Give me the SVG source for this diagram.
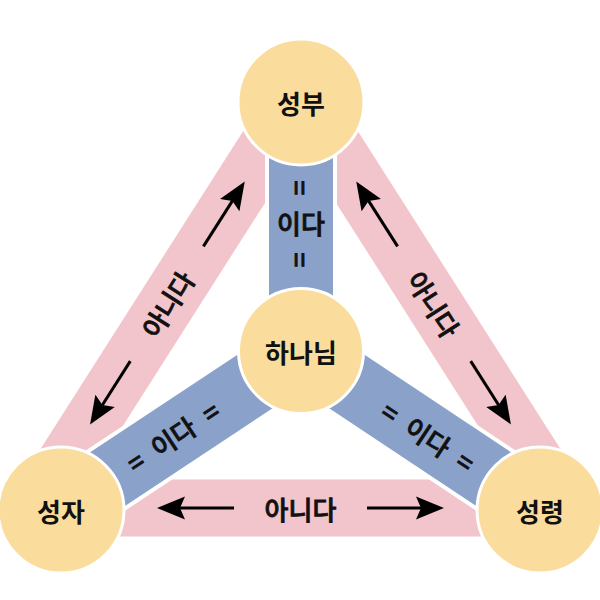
<svg xmlns="http://www.w3.org/2000/svg" width="600" height="600" viewBox="0 0 600 600">
  <style>
    .pink { fill: #F2C4CB; }
    .gap { stroke: #FFFFFF; stroke-width: 72; stroke-linecap: butt; }
    .blue { stroke: #8AA2CA; stroke-width: 64; stroke-linecap: butt; }
    .arrow { stroke: #000000; stroke-width: 3; fill: none; marker-end: url(#ah); }
    .node { fill: #FADD9D; stroke: #FFFFFF; stroke-width: 3; }
    .name { font-family: "Noto Sans CJK KR", "Noto Sans", sans-serif; font-size: 26px; font-weight: bold; fill: #111111; text-anchor: middle; dominant-baseline: central; }
    .lbl { font-family: "Noto Sans CJK KR", "Noto Sans", sans-serif; font-size: 26px; font-weight: 500; fill: #111111; stroke: #111111; stroke-width: 0.8; text-anchor: middle; dominant-baseline: central; }
  </style>
  <defs>
    <marker id="ah" markerUnits="userSpaceOnUse" markerWidth="30" markerHeight="24" viewBox="0 0 30 24" refX="5" refY="12" orient="auto">
      <path d="M0,0.5 L28,12 L0,23.5 L5,12 Z" fill="#000000"/>
    </marker>
  </defs>
  <rect width="600" height="600" fill="#FFFFFF"/>

  <g id="connectors">
    <!-- pink "아니다" bands -->
    <polygon class="pink" points="272.9,84.4 321,115 66.9,513.7 18.8,483.1"/>
    <polygon class="pink" points="328.1,84.4 280,115 534.1,513.7 582.2,483.1"/>
    <rect class="pink" x="61" y="479.5" width="479" height="57"/>

    <!-- blue "이다" bands with white gap -->
    <line class="gap" x1="301" y1="102" x2="301" y2="351"/>
    <line class="gap" x1="61" y1="510" x2="301" y2="351"/>
    <line class="gap" x1="540" y1="510" x2="301" y2="351"/>
    <line class="blue" x1="301" y1="102" x2="301" y2="351"/>
    <line class="blue" x1="61" y1="510" x2="301" y2="351"/>
    <line class="blue" x1="540" y1="510" x2="301" y2="351"/>

    <!-- arrows -->
    <line class="arrow" x1="203.4" y1="246.4" x2="232.4" y2="200.9"/>
    <line class="arrow" x1="130.3" y1="361.1" x2="102.4" y2="405.0"/>
    <line class="arrow" x1="397.6" y1="246.4" x2="368.6" y2="200.9"/>
    <line class="arrow" x1="470.7" y1="361.1" x2="498.6" y2="405.0"/>
    <line class="arrow" x1="234" y1="508" x2="180" y2="508"/>
    <line class="arrow" x1="367" y1="508" x2="421" y2="508"/>

    <!-- labels -->
    <text class="lbl" transform="translate(166.8,303.8) rotate(-57.5)">아니다</text>
    <text class="lbl" transform="translate(434.2,303.8) rotate(57.5)">아니다</text>
    <text class="lbl" x="300.5" y="508">아니다</text>

    <g id="is-vertical">
      <text class="lbl" transform="translate(301,188) rotate(90)">=</text>
      <text class="lbl" x="301" y="222">이다</text>
      <text class="lbl" transform="translate(301,260) rotate(90)">=</text>
    </g>
    <g id="is-left" transform="translate(172.5,436) rotate(-33.5)">
      <text class="lbl" x="-45" y="0">=</text>
      <text class="lbl" x="0" y="0">이다</text>
      <text class="lbl" x="45" y="0">=</text>
    </g>
    <g id="is-right" transform="translate(428.5,436) rotate(33.5)">
      <text class="lbl" x="-45" y="0">=</text>
      <text class="lbl" x="0" y="0">이다</text>
      <text class="lbl" x="45" y="0">=</text>
    </g>
  </g>

  <g id="node-father">
    <circle class="node" cx="301" cy="102" r="63"/>
    <text class="name" x="301" y="102">성부</text>
  </g>
  <g id="node-god">
    <circle class="node" cx="301" cy="351" r="62.5"/>
    <text class="name" x="301" y="351">하나님</text>
  </g>
  <g id="node-son">
    <circle class="node" cx="61" cy="510" r="63"/>
    <text class="name" x="61" y="510">성자</text>
  </g>
  <g id="node-spirit">
    <circle class="node" cx="540" cy="510" r="63"/>
    <text class="name" x="540" y="510">성령</text>
  </g>
</svg>
